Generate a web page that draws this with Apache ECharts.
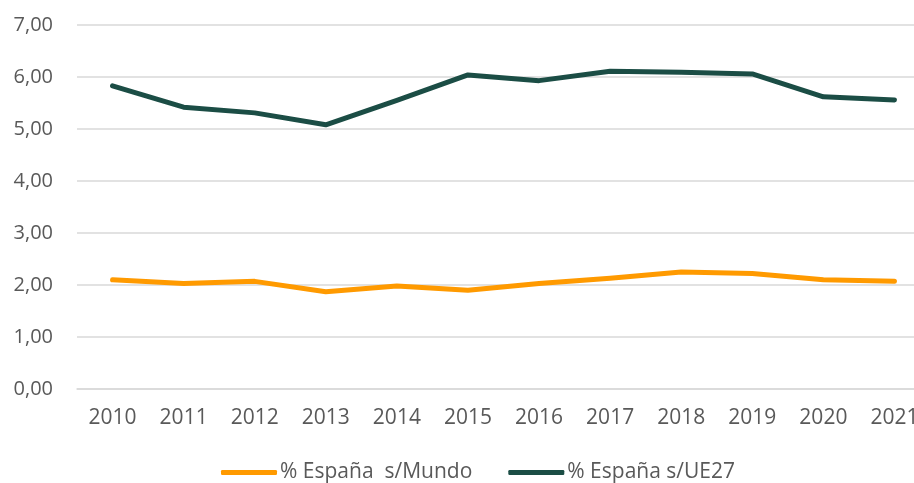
<!DOCTYPE html>
<html>
<head>
<meta charset="utf-8">
<script src="https://cdn.jsdelivr.net/npm/echarts@6/dist/echarts.min.js"></script>
<style>
  html, body { margin: 0; padding: 0; background: #fff; overflow: hidden; }
  /* the plot area runs a little past the right edge of the window */
  #chart { width: 930px; height: 483px; }
</style>
</head>
<body>
<div id="chart"></div>
<script>
// Cuota de España: sobre el mundo y sobre la UE27 (%)
const years = ['2010', '2011', '2012', '2013', '2014', '2015', '2016', '2017', '2018', '2019', '2020', '2021'];
const shareWorld = [2.10, 2.03, 2.07, 1.87, 1.98, 1.90, 2.03, 2.13, 2.25, 2.22, 2.10, 2.07];
const shareEU27 = [5.83, 5.42, 5.31, 5.08, 5.55, 6.04, 5.93, 6.11, 6.09, 6.06, 5.62, 5.56];
const nameWorld = '% España  s/Mundo';
const nameEU27 = '% España s/UE27';

const textColor = '#595959';
const gridColor = '#d9d9d9';
const font = 'Open Sans';

const chart = echarts.init(document.getElementById('chart'), null, { renderer: 'canvas' });
chart.setOption({
  animation: false,
  backgroundColor: '#ffffff',
  grid: { left: 77, top: 25, right: 0, bottom: 94, containLabel: false },
  legend: {
    top: 457,
    left: 216,
    itemWidth: 56,
    itemHeight: 5,
    itemGap: 36,
    icon: 'roundRect',
    textStyle: { color: textColor, fontFamily: font, fontSize: 21, padding: [0, 0, 0, -2] },
    data: [nameWorld, nameEU27]
  },
  xAxis: {
    type: 'category',
    data: years,
    boundaryGap: true,
    axisLine: { show: true, lineStyle: { color: gridColor, width: 1.5 } },
    axisTick: { show: false },
    axisLabel: { color: textColor, fontFamily: font, fontSize: 21, margin: 19 }
  },
  yAxis: {
    type: 'value',
    min: 0,
    max: 7,
    interval: 1,
    axisLine: { show: false },
    axisTick: { show: false },
    splitLine: { lineStyle: { color: gridColor, width: 1.5 } },
    axisLabel: {
      color: textColor, fontFamily: font, fontSize: 20, margin: 24,
      formatter: v => v.toFixed(2).replace('.', ',')
    }
  },
  series: [
    {
      name: nameWorld,
      type: 'line',
      data: shareWorld,
      symbol: 'none',
      lineStyle: { color: '#ff9a00', width: 5, cap: 'round', join: 'round' },
      itemStyle: { color: '#ff9a00' }
    },
    {
      name: nameEU27,
      type: 'line',
      data: shareEU27,
      symbol: 'none',
      lineStyle: { color: '#1b4d45', width: 5, cap: 'round', join: 'round' },
      itemStyle: { color: '#1b4d45' }
    }
  ]
});
</script>
</body>
</html>
